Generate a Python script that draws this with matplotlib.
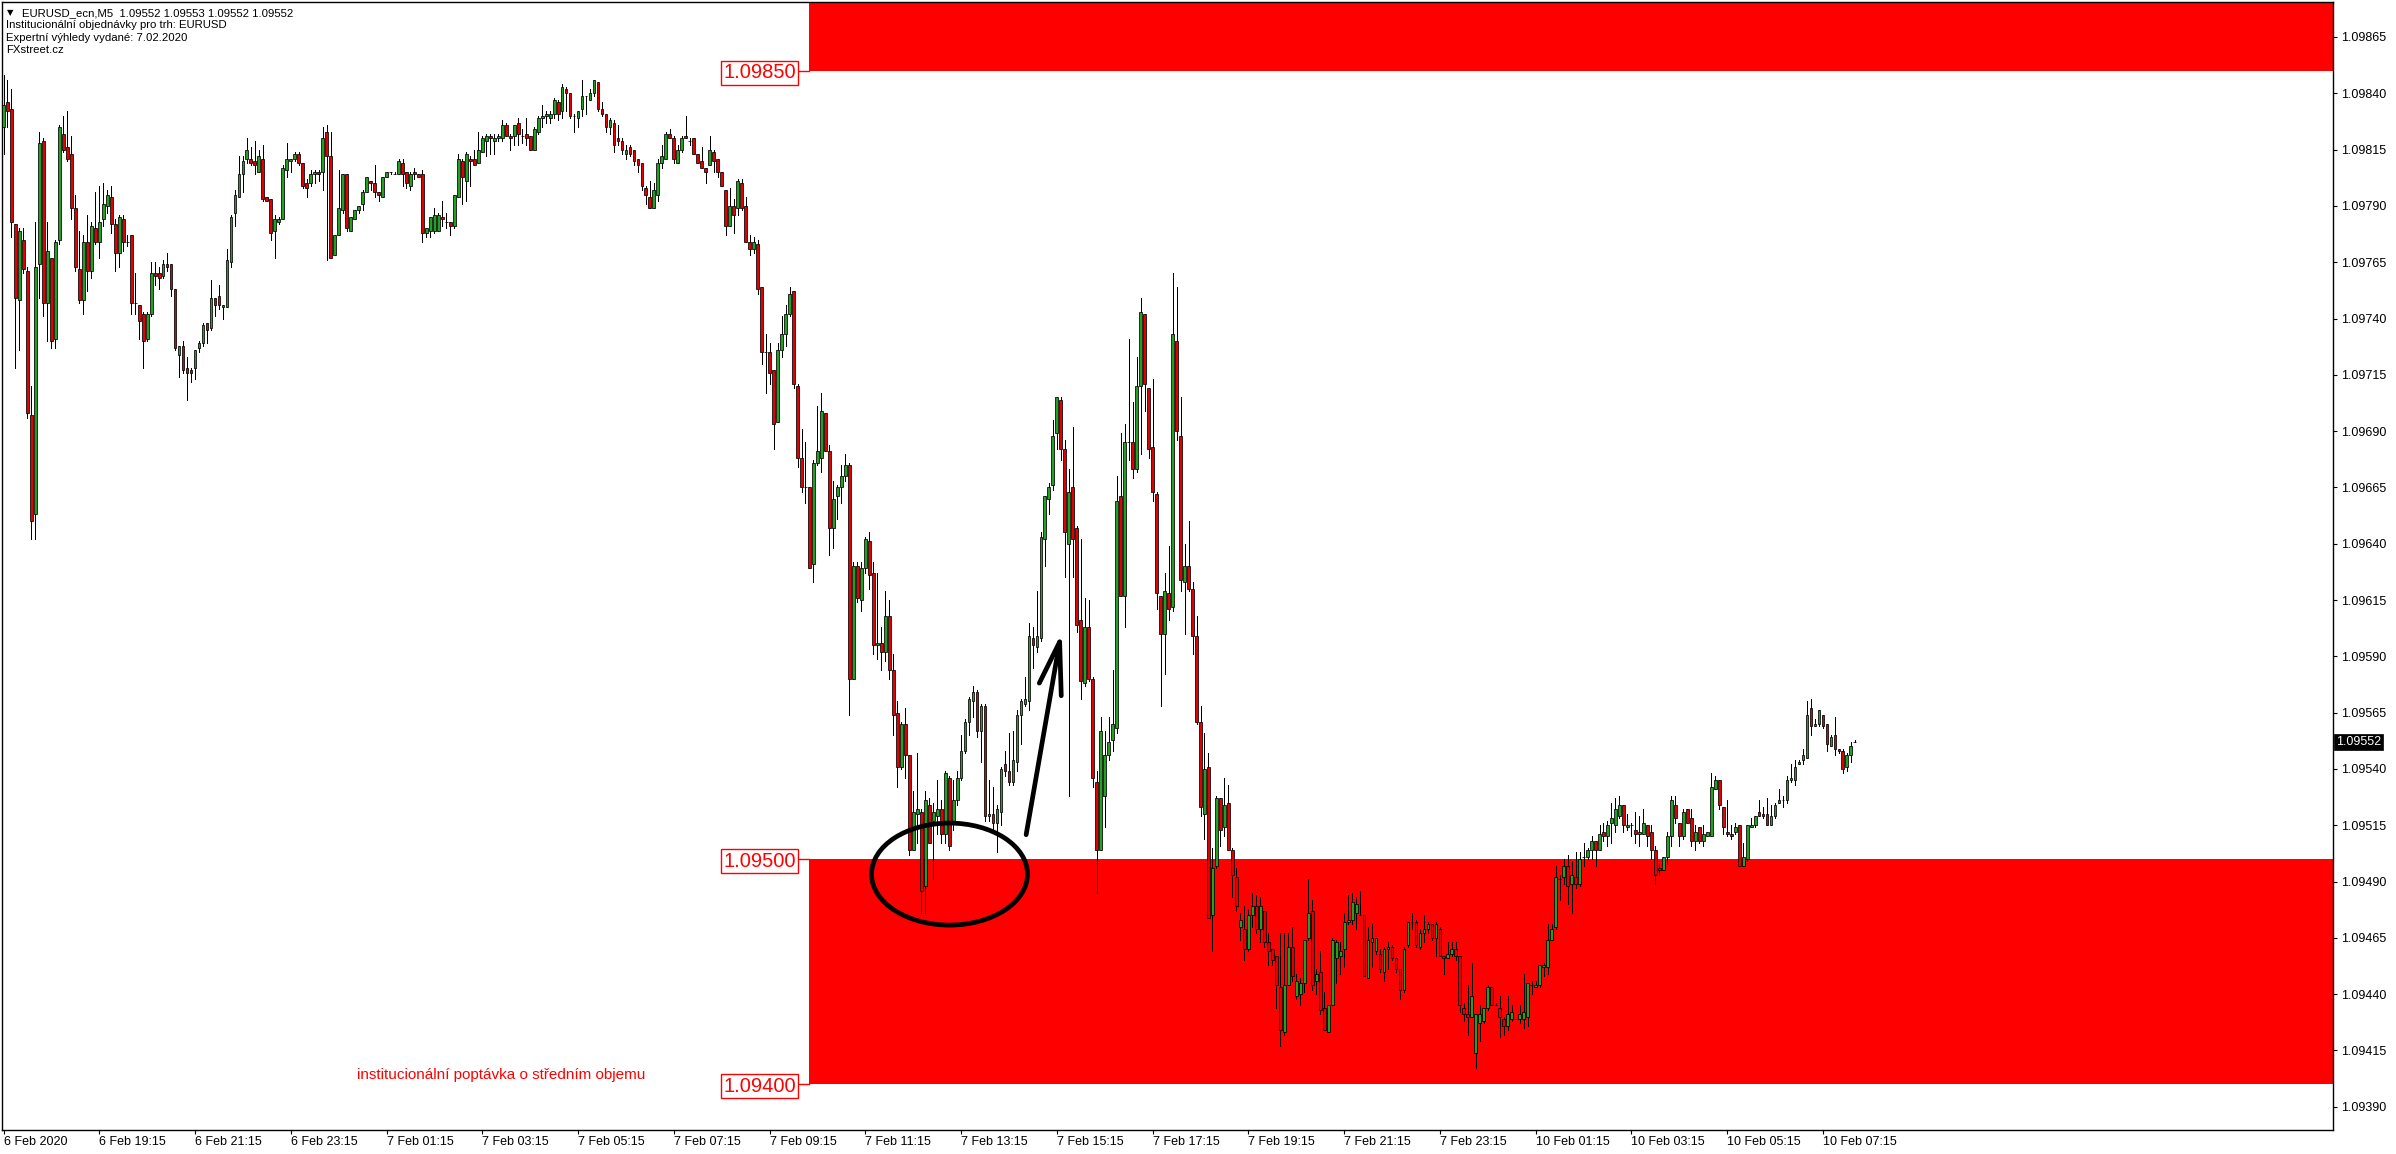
import matplotlib
matplotlib.use("Agg")
import matplotlib.pyplot as plt
import matplotlib.transforms as mtransforms
from matplotlib.patches import Ellipse, Rectangle

plt.rcParams['font.family'] = ['Liberation Sans', 'DejaVu Sans']

# ---------------- data (EURUSD M5, prices as points above 1.09000) ----------------
BASE = 1.09000
POINT = 0.00001

open_pts = [
    825,836,833,782,748,775,761,697,653,764, 819,747,767,731,775,822,816,813,789,762,
    748,774,761,780,774,784,790,794,782,769, 784,774,777,747,746,742,731,742,760,760,
    759,764,764,753,724,728,718,717,718,727, 729,738,736,749,750,745,745,765,787,794,
    804,811,811,810,805,811,794,793,779,783, 784,806,810,811,813,809,800,800,804,805,
    805,823,812,768,777,788,804,779,784,788, 791,796,801,800,796,794,803,805,804,804,
    809,805,799,805,804,804,778,779,779,779, 785,783,783,781,794,810,801,811,811,809,
    814,819,821,819,820,820,826,821,821,827, 821,822,821,815,823,829,830,829,831,836,
    832,842,840,830,829,833,839,837,840,845, 833,831,825,827,820,819,813,816,815,811,
    809,798,794,789,795,809,811,822,820,809, 815,821,819,820,813,810,807,808,814,811,
    805,797,781,790,789,800,790,774,771,773, 754,725,725,717,694,726,733,742,752,710,
    678,665,665,631,676,678,698,681,647,661, 665,670,675,580,630,615,629,641,627,595,
    596,592,608,584,565,541,560,546,504,520, 521,488,524,517,519,522,511,536,517,526,
    536,548,561,570,574,557,568,519,520,516, 521,542,539,534,543,564,569,570,598,594,
    598,642,660,666,689,704,682,640,665,647, 606,578,603,580,534,504,528,546,553,558,
    661,617,685,685,673,710,742,709,683,662, 617,600,618,612,730,688,623,630,620,599,
    561,520,541,475,497,527,514,525,504,492, 470,469,460,475,479,469,477,463,460,457,
    443,423,444,461,439,440,445,465,477,446, 450,434,423,435,456,457,460,472,473,476,
    475,475,447,463,459,458,450,460,461,456, 451,442,462,472,472,461,467,469,471,465,
    469,457,456,458,460,457,434,431,430,414, 427,428,434,443,435,434,429,426,429,429,
    429,429,430,444,443,444,452,452,464,470, 491,492,497,489,492,489,501,501,504,508,
    504,512,510,516,515,519,524,514,515,513, 511,511,515,512,504,496,495,501,510,524,
    516,510,522,518,508,514,508,510,510,531, 535,523,512,511,512,515,497,500,514,515,
    521,520,520,515,519,525,526,526,535,535, 542,544,545,567,559,560,564,560,550,555,
    549,548,541,546,552,
]
high_pts = [
    848,846,842,782,780,780,763,710,783,823, 820,783,767,775,826,830,832,821,795,779,
    777,786,783,796,799,800,797,799,784,786, 786,777,777,760,746,743,743,765,765,763,
    766,769,764,753,728,730,723,718,726,730, 738,738,757,749,755,746,771,786,797,812,
    812,820,816,819,815,817,794,793,786,785, 808,818,811,814,814,809,802,806,806,806,
    825,826,823,777,806,804,804,785,788,790, 797,803,801,808,796,803,805,805,805,811,
    811,805,805,807,804,806,780,785,789,787, 792,787,783,795,813,811,814,812,815,823,
    821,822,822,822,822,828,827,822,826,829, 824,829,821,825,830,835,832,832,838,837,
    844,843,840,831,832,846,839,842,846,845, 836,831,829,828,826,820,817,817,815,811,
    809,799,801,800,811,817,823,824,821,817, 821,830,820,820,813,816,807,821,815,811,
    805,797,798,793,802,802,794,777,776,775, 754,733,729,717,729,741,746,754,752,711,
    691,685,665,677,701,707,698,684,668,666, 675,680,676,632,632,632,643,645,632,627,
    603,619,615,591,570,561,567,546,530,547, 522,530,527,525,535,526,539,537,535,539,
    555,562,572,577,575,569,569,535,532,524, 541,548,556,557,566,571,581,605,603,619,
    645,661,667,695,705,705,686,673,692,648, 642,616,615,581,539,563,557,563,584,670,
    689,693,731,703,723,749,742,709,713,663, 617,627,639,760,754,705,640,650,623,608,
    568,556,547,505,528,527,536,533,505,496, 476,479,478,485,484,483,477,467,460,457,
    467,467,467,470,449,447,464,491,482,451, 459,441,435,465,464,463,476,484,485,483,
    486,475,470,471,465,460,461,463,462,456, 451,461,472,476,473,469,475,472,471,472,
    470,457,463,463,463,457,436,444,454,431, 435,434,444,443,436,439,430,439,435,429,
    435,449,445,446,446,453,454,471,471,497, 493,500,502,499,503,503,507,505,510,508,
    515,516,517,525,527,528,524,520,516,521, 519,522,515,515,506,498,501,512,528,528,
    516,522,522,522,515,514,515,512,538,537, 535,523,526,515,516,515,507,515,518,519,
    526,523,527,524,525,531,528,537,542,544, 544,549,570,571,562,566,564,560,555,563,
    549,549,547,552,553,
]
low_pts = [
    813,825,776,718,726,760,696,642,642,749, 741,730,727,727,773,814,810,784,761,747,
    742,752,758,773,767,781,787,778,761,763, 770,772,742,742,731,718,730,741,755,753,
    758,761,750,726,714,716,704,712,713,725, 728,729,735,741,744,740,745,763,781,794,
    796,809,808,804,805,792,792,775,767,782, 784,803,805,810,808,798,794,799,800,801,
    797,766,767,768,777,787,779,779,784,787, 788,796,797,794,792,794,803,804,804,804,
    799,798,797,802,803,774,776,776,778,779, 781,780,777,780,794,791,792,799,808,809,
    814,812,813,813,819,819,821,815,817,817, 818,817,815,815,822,825,827,827,829,828,
    829,832,829,823,825,830,831,837,839,832, 830,823,822,814,817,813,811,812,808,805,
    797,791,789,789,792,807,811,820,809,809, 814,820,817,813,809,807,800,808,805,803,
    799,777,781,778,786,788,774,768,769,751, 720,707,711,682,694,723,728,741,709,674,
    663,658,629,623,675,672,681,635,638,651, 658,668,564,580,614,610,627,620,591,589,
    584,588,580,555,532,540,536,502,504,507, 476,476,507,491,511,507,507,504,513,524,
    535,547,555,563,554,543,517,517,512,503, 515,537,533,533,539,551,568,566,585,592,
    597,630,653,664,682,677,625,528,625,601, 571,577,579,532,485,504,514,544,548,556,
    617,603,677,669,672,680,699,678,659,611, 568,582,606,610,686,619,600,619,591,560,
    519,509,474,459,496,506,510,504,483,477, 464,455,459,470,467,463,461,453,453,434,
    417,422,444,446,438,435,441,464,442,440, 431,424,423,435,445,449,452,471,471,469,
    475,448,447,452,458,450,446,451,455,450, 438,441,461,469,461,460,463,467,464,457,
    457,449,456,457,455,432,428,422,430,407, 419,427,433,435,435,421,422,424,428,429,
    427,425,426,440,443,443,448,449,464,469, 482,489,480,476,487,488,497,500,500,497,
    504,508,506,507,512,518,512,513,510,507, 506,511,506,500,489,493,495,498,506,516,
    506,509,516,506,504,507,506,510,510,531, 522,511,510,509,511,497,497,499,514,514,
    519,518,515,515,518,525,523,525,534,533, 542,542,545,555,559,559,558,548,550,546,
    547,538,539,543,552,
]
close_pts = [
    835,832,783,749,779,762,698,650,763,818, 747,770,730,774,825,815,811,789,763,748,
    774,761,781,774,783,791,795,782,769,785, 774,774,747,747,739,730,742,760,759,758,
    764,763,753,727,728,717,716,716,726,729, 737,735,749,746,746,746,766,785,795,804,
    810,815,809,808,812,793,792,778,784,784, 807,811,811,813,809,799,798,804,805,804,
    820,812,767,777,789,804,780,785,788,790, 796,803,800,796,795,803,805,805,804,810,
    804,800,804,804,803,778,780,785,786,786, 784,783,781,795,811,803,813,810,808,815,
    820,821,820,820,821,826,821,820,826,822, 821,820,815,824,829,830,831,831,837,831,
    843,840,830,830,832,839,839,840,846,833, 831,825,828,817,819,815,815,813,810,808,
    799,795,789,797,809,812,822,820,811,815, 820,820,819,813,809,807,805,815,810,805,
    799,781,790,786,801,789,774,771,774,753, 725,725,716,693,726,733,742,751,711,678,
    665,665,629,676,681,699,681,647,660,665, 670,675,580,630,616,629,642,626,595,596,
    592,608,584,564,541,560,546,504,521,522, 486,526,507,521,522,511,538,506,526,536,
    548,561,571,574,557,568,519,520,516,522, 540,539,534,544,564,570,571,599,595,599,
    643,661,665,688,705,682,645,663,642,604, 579,603,580,536,504,557,546,552,560,659,
    617,685,685,673,710,743,711,682,663,618, 600,619,611,733,690,624,630,620,599,561,
    523,540,474,496,527,513,524,504,493,479, 473,460,475,479,469,479,463,459,455,444,
    424,444,461,448,446,445,464,476,444,449, 433,424,435,464,463,459,472,473,481,480,
    475,448,464,465,465,451,460,461,456,451, 442,460,472,472,462,467,469,471,465,471,
    457,456,458,460,457,435,431,430,439,431, 431,434,443,435,435,430,426,431,432,429,
    431,432,445,444,444,453,453,464,469,492, 491,497,488,493,489,500,501,504,508,504,
    511,510,515,518,522,524,515,515,515,511, 512,516,510,504,493,495,501,510,526,518,
    510,521,516,508,512,508,511,512,532,535, 524,514,511,510,514,497,501,515,515,519,
    519,519,515,519,524,526,526,535,536,541, 543,546,564,559,560,566,559,551,554,549,
    548,540,546,550,552,
]

bars_per_label = 24
time_labels = ["6 Feb 2020", "6 Feb 19:15", "6 Feb 21:15", "6 Feb 23:15",
               "7 Feb 01:15", "7 Feb 03:15", "7 Feb 05:15", "7 Feb 07:15",
               "7 Feb 09:15", "7 Feb 11:15", "7 Feb 13:15", "7 Feb 15:15",
               "7 Feb 17:15", "7 Feb 19:15", "7 Feb 21:15", "7 Feb 23:15",
               "10 Feb 01:15", "10 Feb 03:15", "10 Feb 05:15", "10 Feb 07:15"]

price_ticks = [1.09390, 1.09415, 1.09440, 1.09465, 1.09490, 1.09515, 1.09540,
               1.09565, 1.09590, 1.09615, 1.09640, 1.09665, 1.09690, 1.09715,
               1.09740, 1.09765, 1.09790, 1.09815, 1.09840, 1.09865]

supply_zone = (1.09850, 1.09950)
demand_zone = (1.09400, 1.09500)
level_values = [1.09850, 1.09500, 1.09400]
last_price = 1.09552

header_lines = ["EURUSD_ecn,M5  1.09552 1.09553 1.09552 1.09552",
                "Institucionální objednávky pro trh: EURUSD",
                "Expertní výhledy vydané: 7.02.2020",
                "FXstreet.cz"]
note_text = "institucionální poptávka o středním objemu"

# ---------------- layout ----------------
W, H, DPI = 2396, 1154, 100
AX_L, AX_R, AX_T, AX_B = 2.0, 2333.0, 2.3, 1129.5
BAR_PX, X0_PX = 3.99, 3.5

fig = plt.figure(figsize=(W / DPI, H / DPI), dpi=DPI, facecolor='white')
ax = fig.add_axes([AX_L / W, 1 - AX_B / H, (AX_R - AX_L) / W, (AX_B - AX_T) / H])
ax.set_facecolor('white')
ax.set_xlim((AX_L - X0_PX) / BAR_PX, (AX_R - X0_PX) / BAR_PX)
ax.set_ylim(1.093799, 1.098804)

n = len(close_pts)
assert len(open_pts) == n and len(high_pts) == n and len(low_pts) == n, \
    (len(open_pts), len(high_pts), len(low_pts), n)

xs = list(range(n))
o = [BASE + v * POINT for v in open_pts]
c = [BASE + v * POINT for v in close_pts]
h = [max(BASE + v * POINT, a, b) for v, a, b in zip(high_pts, o, c)]
l = [min(BASE + v * POINT, a, b) for v, a, b in zip(low_pts, o, c)]

# zones (background objects)
zone_left = (809 - X0_PX) / BAR_PX
xr = ax.get_xlim()[1]
for lo, hi in (supply_zone, demand_zone):
    ax.add_patch(Rectangle((zone_left, lo), xr - zone_left + 5, hi - lo,
                           facecolor='#FF0000', edgecolor='none', zorder=0))

# candles
ax.vlines(xs, l, h, colors='black', linewidth=0.72, zorder=2, antialiased=False)
bottoms = [min(a, b) for a, b in zip(o, c)]
heights = [abs(b - a) for a, b in zip(o, c)]
cols = ['#22A022' if b > a else ('#E00000' if b < a else 'black') for a, b in zip(o, c)]
ax.bar(xs, heights, bottom=bottoms, width=0.7, color=cols, edgecolor='black',
       linewidth=0.55, zorder=3, antialiased=True)

# level labels with boxes
box_right = (796 - X0_PX) / BAR_PX
for lv in level_values:
    ax.text(box_right, lv, f"{lv:.5f}", ha='right', va='center_baseline', fontsize=14.5,
            color='#FF0000', zorder=6,
            bbox=dict(boxstyle='square,pad=0.12', fc='white', ec='#FF0000', lw=1.0))
    ax.plot([(798 - X0_PX) / BAR_PX, zone_left], [lv, lv], color='#FF0000', lw=1.0, zorder=5)

# annotation: ellipse + arrow
ax.add_patch(Ellipse((237.1, 1.094933), width=39.1, height=0.000453, fill=False,
                     edgecolor='black', linewidth=3.4, zorder=7))
ax.plot([256.3, 264.7], [1.095108, 1.095964], color='black', lw=3.4,
        solid_capstyle='round', zorder=7)
ax.plot([259.6, 264.7, 265.1], [1.095781, 1.095964, 1.095725], color='black', lw=3.4,
        solid_capstyle='round', solid_joinstyle='round', zorder=7)

ax.text((501 - X0_PX) / BAR_PX, 1.094041, note_text, ha='center', va='center',
        fontsize=11, color='#FF0000', zorder=6)

# axes styling
for sp in ax.spines.values():
    sp.set_linewidth(1.0)
    sp.set_color('black')
ax.yaxis.tick_right()
ax.set_yticks(price_ticks)
ax.set_yticklabels([f"{v:.5f}" for v in price_ticks])
ax.tick_params(axis='y', direction='out', length=3, width=0.8, pad=3, labelsize=9,
               colors='black')
ax.set_xticks([k * bars_per_label for k in range(len(time_labels))])
ax.set_xticklabels(time_labels, ha='left')
ax.tick_params(axis='x', direction='out', length=3, width=0.8, pad=2, labelsize=9,
               colors='black')

# current price tag
trans = mtransforms.blended_transform_factory(ax.transAxes, ax.transData)
ax.text(1.0 + 3.0 / (AX_R - AX_L), last_price, f"{last_price:.5f}", transform=trans,
        ha='left', va='center', fontsize=9, color='white', zorder=8, clip_on=False,
        bbox=dict(boxstyle='square,pad=0.18', fc='black', ec='black', lw=0.5))

# header
fig.text(7 / W, 1 - 12.7 / H, "\u25BC", fontsize=6, va='center', ha='left',
         family='DejaVu Sans')
fig.text(21.7 / W, 1 - 12.7 / H, header_lines[0], fontsize=8.2, va='center', ha='left')
for k, line in enumerate(header_lines[1:]):
    fig.text(6 / W, 1 - (25.2 + 12.4 * k) / H, line, fontsize=8.2, va='center', ha='left')

fig.savefig("out.png", dpi=DPI, facecolor='white')
